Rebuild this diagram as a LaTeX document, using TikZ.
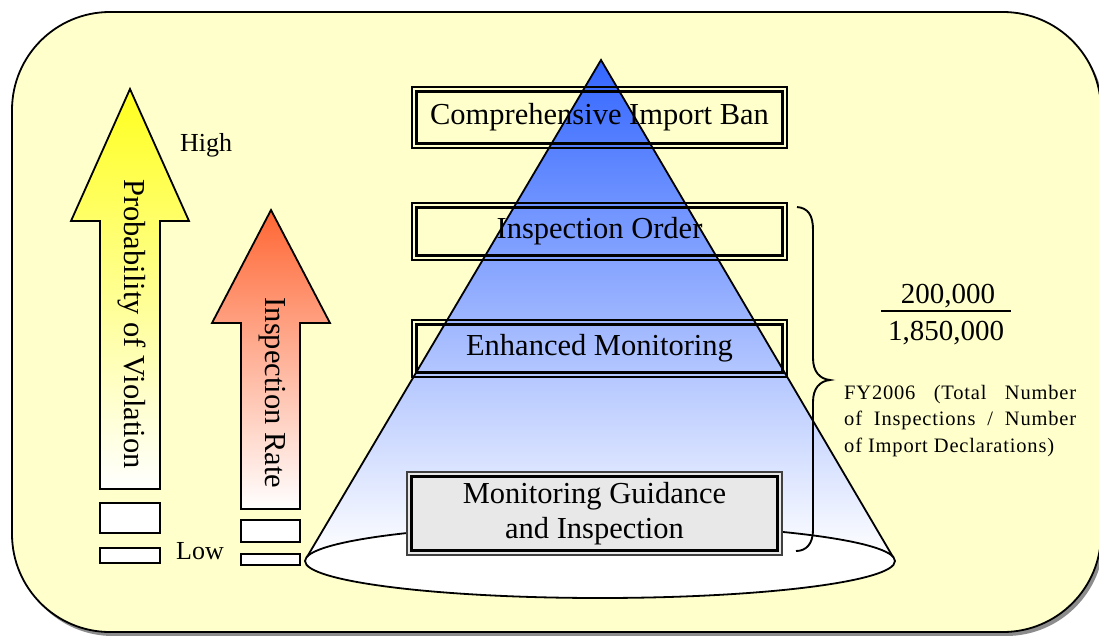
\documentclass[tikz,border=0pt]{standalone}
\usepackage{fontspec}
\setmainfont{Liberation Serif}
\usetikzlibrary{shapes.geometric}
\definecolor{bgyellow}{RGB}{255,255,204}
\definecolor{coneblue}{RGB}{51,102,255}
\definecolor{arrowyellow}{RGB}{255,255,30}
\definecolor{arroworange}{RGB}{255,102,51}
\definecolor{arrowsalmon}{RGB}{255,165,140}
\definecolor{boxgray}{RGB}{232,232,232}
\begin{document}
\begin{tikzpicture}[x=1pt,y=-1pt,
  bigtext/.style={font=\fontsize{30.5}{34}\selectfont, inner sep=0pt},
  sidetext/.style={font=\fontsize{26}{30}\selectfont, inner sep=0pt},
  numtext/.style={font=\fontsize{29}{32}\selectfont, inner sep=0pt},
  frame/.style={draw, line width=2pt, minimum width=375pt, inner sep=0pt, align=center,
                font=\fontsize{30.5}{34}\selectfont},
  innerline/.style={draw, line width=3.2pt},
  stub/.style={draw, line width=2pt, fill=white}]
\useasboundingbox (0,0) rectangle (1099,635);
% background panel with shadow
\fill[black!45, rounded corners=98pt] (15,16) rectangle (1104,636);
\draw[fill=bgyellow, line width=1.8pt, rounded corners=98pt] (12,12) rectangle (1101,632);

% yellow arrow
\shade[top color=arrowyellow, bottom color=white, draw=black, line width=1.8pt]
  (130,89) -- (189,221) -- (160,221) -- (160,489) -- (100,489) -- (100,221) -- (71,221) -- cycle;
\node[bigtext, rotate=-90] (prob) at (132,324) {Probability of Violation};
\draw[stub] (100,503) rectangle (160,533);
\draw[stub] (100,548) rectangle (160,563);

% orange arrow
\shade[top color=arroworange, middle color=arrowsalmon, bottom color=white, draw=black, line width=1.8pt]
  (271,210) -- (330,323) -- (300,323) -- (300,509) -- (241,509) -- (241,323) -- (212,323) -- cycle;
\node[bigtext, rotate=-90] (rate) at (272,393) {Inspection Rate};
\draw[stub] (241,520) rectangle (300,542);
\draw[stub] (241,554) rectangle (300,565);

\node[sidetext] (high) at (206,145) {High};
\node[sidetext] (low) at (200,551) {Low};

% cone
\coordinate (apex) at (601,60);
\coordinate (bl) at (307,557);
\coordinate (br) at (893,557);
\shade[top color=coneblue, bottom color=white] (apex) -- (bl) -- (br) -- cycle;
\node[draw, line width=1.8pt, fill=white, ellipse, minimum width=590pt, minimum height=74pt, inner sep=0pt] (base) at (600,561) {};
\draw[line width=1.8pt] (bl) -- (apex) -- (br);

% level boxes
\node[frame, minimum height=61pt] (ban) at (599.5,117.5) {Comprehensive Import Ban};
\draw[innerline] ([xshift=5.5pt,yshift=-5.5pt]ban.north west) rectangle ([xshift=-5.5pt,yshift=5.5pt]ban.south east);
\node[frame, minimum height=57pt] (order) at (599.5,231.5) {Inspection Order};
\draw[innerline] ([xshift=5.5pt,yshift=-5.5pt]order.north west) rectangle ([xshift=-5.5pt,yshift=5.5pt]order.south east);
\node[frame, minimum height=57pt] (enh) at (599.5,348.5) {Enhanced Monitoring};
\draw[innerline] ([xshift=5.5pt,yshift=-5.5pt]enh.north west) rectangle ([xshift=-5.5pt,yshift=5.5pt]enh.south east);
\node[frame, draw=black!75, fill=boxgray, minimum height=83pt,
      font=\fontsize{30.5}{35}\selectfont] (guide) at (594.5,513.5) {\rule{0pt}{4pt}Monitoring Guidance\\and Inspection};
\draw[innerline] ([xshift=5.5pt,yshift=-5.5pt]guide.north west) rectangle ([xshift=-5.5pt,yshift=5.5pt]guide.south east);

% brace
\coordinate (btop) at (797,207);
\coordinate (btip) at (830,380);
\coordinate (bbot) at (796,551);
\draw[line width=1.9pt] (btop) .. controls (808,208) and (813,215) .. (813,230) -- (813,358)
  .. controls (813,372) and (820,379) .. (btip)
  .. controls (820,381) and (813,388) .. (813,402) -- (813,530)
  .. controls (813,544) and (806,551) .. (bbot);

% fraction
\node[numtext] (num) at (948,296) {200,000};
\node[numtext] (den) at (946,333) {1,850,000};
\coordinate (fl) at (881,311);
\coordinate (fr) at (1011,311);
\draw[line width=1.5pt] (fl) -- (fr);

\node[anchor=north west, inner sep=0pt, align=left,
      font=\fontsize{20.5}{26.5}\selectfont\addfontfeature{LetterSpace=4}] (note) at (844,385)
  {\makebox[232pt][s]{FY2006 (Total Number}\\
   \makebox[232pt][s]{of Inspections / Number}\\
   of Import Declarations)};
\end{tikzpicture}
\end{document}
